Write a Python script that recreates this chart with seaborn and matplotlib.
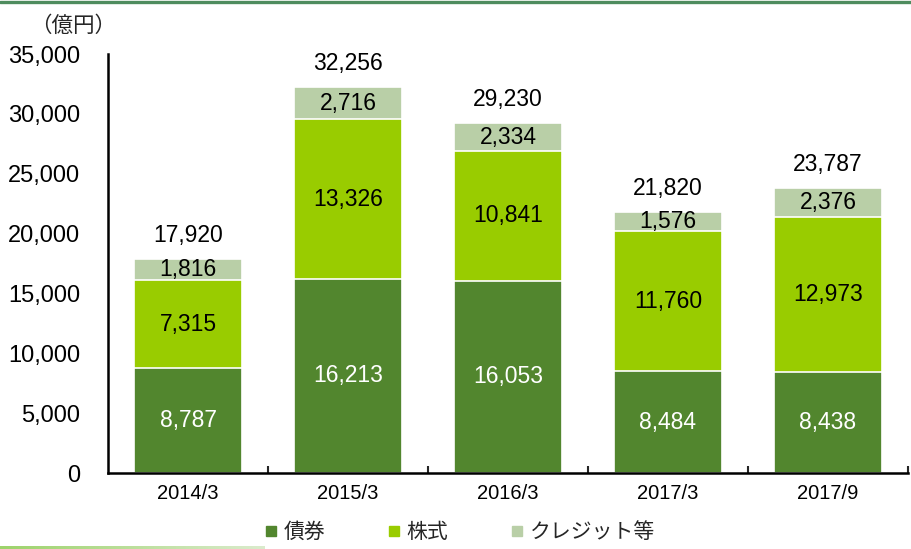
import numpy as np
import pandas as pd
import seaborn as sns
import matplotlib.pyplot as plt
from matplotlib.lines import Line2D

# values (億円)
periods = ['2014/3', '2015/3', '2016/3', '2017/3', '2017/9']
bonds = [8787, 16213, 16053, 8484, 8438]
stocks = [7315, 13326, 10841, 11760, 12973]
credit = [1816, 2716, 2334, 1576, 2376]
totals = [17920, 32256, 29230, 21820, 23787]

series_names = ['債券', '株式', 'クレジット等']
colors = ['#52862E', '#99CC00', '#B9CFA7']

sns.set_theme(style='white')
plt.rcParams['font.family'] = ['Liberation Sans', 'Noto Sans CJK JP']

df = pd.DataFrame({'period': periods, 'bonds': bonds, 'stocks': stocks, 'credit': credit})
df['lvl1'] = df['bonds']
df['lvl2'] = df['bonds'] + df['stocks']
df['lvl3'] = df['lvl2'] + df['credit']

fig = plt.figure(figsize=(9.11, 5.49), dpi=100)
ax = fig.add_axes([0.1186, 0.1384, 0.878, 0.7632])

# draw cumulative heights tallest first so each segment sits on the one below
for col, c in zip(['lvl3', 'lvl2', 'lvl1'], colors[::-1]):
    sns.barplot(data=df, x='period', y=col, color=c, width=0.67,
                edgecolor='white', linewidth=1.2, saturation=1, ax=ax)

# segment labels
fs = 16.5
for i in range(len(periods)):
    ax.text(i, bonds[i] / 2, f'{bonds[i]:,}', ha='center', va='center',
            color='white', fontsize=fs)
    ax.text(i, bonds[i] + stocks[i] / 2, f'{stocks[i]:,}', ha='center', va='center',
            color='black', fontsize=fs)
    ax.text(i, bonds[i] + stocks[i] + credit[i] / 2, f'{credit[i]:,}', ha='center',
            va='center', color='black', fontsize=fs)
    ax.text(i, totals[i] + 1000, f'{totals[i]:,}', ha='center', va='bottom',
            color='black', fontsize=fs)

ax.set_ylim(0, 35000)
ax.set_xlim(-0.5, len(periods) - 0.5)
ax.set_yticks(np.arange(0, 35001, 5000))
ax.set_yticklabels([f'{v:,}' for v in range(0, 35001, 5000)], fontsize=17)
ax.set_xticks(range(len(periods)))
ax.set_xticklabels(periods, fontsize=14.5)
ax.tick_params(axis='x', length=0, pad=8, colors='black')
ax.tick_params(axis='y', direction='in', length=5, width=1.5, pad=20, colors='black')
ax.set_xlabel('')
ax.set_ylabel('')

# minor ticks between categories, pointing up
ax.set_xticks(np.arange(0.5, len(periods) - 0.4, 1), minor=True)
ax.tick_params(axis='x', which='minor', direction='in', length=5, width=1.5, bottom=True)

sns.despine(ax=ax, top=True, right=True)
for s in ['left', 'bottom']:
    ax.spines[s].set_linewidth(1.8)
    ax.spines[s].set_color('black')

fig.text(0.033, 0.952, '（億円）', fontsize=15.5, ha='left', va='center',
         family=['Noto Sans CJK JP', 'Liberation Sans'])

handles = [Line2D([], [], marker='s', linestyle='none', markersize=7,
                  markerfacecolor=c, markeredgecolor=c) for c in colors]
fig.legend(handles, series_names, loc='center', bbox_to_anchor=(0.505, 0.031),
           ncol=3, frameon=False, handlelength=0.6, handletextpad=0.3,
           columnspacing=3.0,
           prop={'family': ['Noto Sans CJK JP'], 'size': 15})

# decorative top rule and bottom gradient rule
fig.add_artist(Line2D([0, 1], [0.9965, 0.9965], transform=fig.transFigure,
                      color='#4E8C5E', linewidth=2.4))
gax = fig.add_axes([0.0, 0.0, 0.29, 0.006])
grad = np.linspace(0, 1, 256).reshape(1, -1)
gax.imshow(grad, aspect='auto', cmap=sns.light_palette('#9DD36B', reverse=True, as_cmap=True),
           vmin=0, vmax=1.3)
gax.axis('off')

fig.savefig('out.png', dpi=100)
